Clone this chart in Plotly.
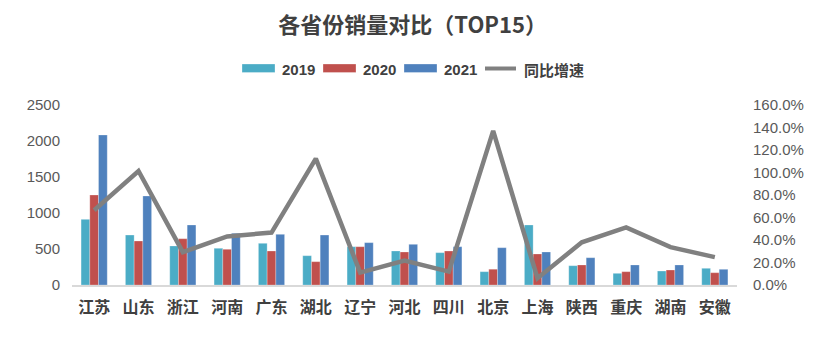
import plotly.graph_objects as go

provinces = ["江苏", "山东", "浙江", "河南", "广东", "湖北", "辽宁", "河北",
             "四川", "北京", "上海", "陕西", "重庆", "湖南", "安徽"]
sales_2019 = [912, 694, 542, 510, 579, 407, 532, 472, 449, 185, 833, 268, 162, 194, 232]
sales_2020 = [1250, 611, 643, 496, 472, 324, 532, 458, 472, 219, 431, 278, 185, 208, 171]
sales_2021 = [2083, 1236, 833, 718, 704, 694, 588, 565, 532, 518, 458, 379, 278, 278, 218]
growth = [0.665, 1.013, 0.292, 0.432, 0.466, 1.123, 0.11, 0.217, 0.119, 1.37, 0.06, 0.38, 0.512, 0.337, 0.248]

series_names = ["2019", "2020", "2021"]
series_colors = ["#4BACC6", "#C0504D", "#4F81BD"]
line_name = "同比增速"
line_color = "#808080"

FONT = "Liberation Sans, Arial, Noto Sans CJK SC"
CJK = "Noto Sans CJK SC, Liberation Sans"

W, H = 832, 343
M = dict(l=72, r=95, t=105, b=58)
PW = W - M["l"] - M["r"]
PH = H - M["t"] - M["b"]


def px_x(x):
    return (x - M["l"]) / PW


def px_y(y):
    return (H - M["b"] - y) / PH


fig = go.Figure()
for name, vals, col in zip(series_names, [sales_2019, sales_2020, sales_2021], series_colors):
    fig.add_trace(go.Bar(x=provinces, y=vals, name=name, marker_color=col,
                         marker_line=dict(color="rgba(255,255,255,0.5)", width=0.5),
                         showlegend=False))
fig.add_trace(go.Scatter(x=provinces, y=growth, name=line_name, mode="lines",
                         line=dict(color=line_color, width=4.5), yaxis="y2",
                         showlegend=False))

# legend row: wide swatches followed by bold labels
shapes = []
annotations = []
swatch_x = [242, 323, 404]
for sx, name, col in zip(swatch_x, series_names, series_colors):
    shapes.append(dict(type="rect", xref="paper", yref="paper",
                       x0=px_x(sx), x1=px_x(sx + 33), y0=px_y(72.5), y1=px_y(64),
                       fillcolor=col, line=dict(color="rgba(255,255,255,0.6)", width=0.5)))
    annotations.append(dict(text=f"<b>{name}</b>", xref="paper", yref="paper",
                            x=px_x(sx + 38), y=px_y(69), xanchor="left", yanchor="middle",
                            showarrow=False, font=dict(family=FONT, size=15, color="#404040")))
shapes.append(dict(type="line", xref="paper", yref="paper",
                   x0=px_x(485), x1=px_x(516), y0=px_y(68.5), y1=px_y(68.5),
                   line=dict(color=line_color, width=4)))
annotations.append(dict(text=f"<b>{line_name}</b>", xref="paper", yref="paper",
                        x=px_x(522), y=px_y(69), xanchor="left", yanchor="middle",
                        showarrow=False, font=dict(family=CJK, size=15, color="#404040")))

fig.update_layout(
    width=W, height=H, margin=M,
    paper_bgcolor="white", plot_bgcolor="white",
    barmode="group", bargap=0.41, bargroupgap=0,
    showlegend=False,
    title=dict(text="<b>各省份销量对比（TOP15）</b>", x=0.496, xanchor="center",
               y=0.925, yanchor="middle",
               font=dict(family=CJK, size=22, color="#404040")),
    shapes=shapes, annotations=annotations,
    xaxis=dict(showgrid=False, showline=True, linecolor="#D9D9D9", linewidth=1.5,
               ticks="", ticklabelstandoff=7,
               tickvals=provinces, ticktext=[f"<b>{p}</b>" for p in provinces],
               tickfont=dict(family=CJK, size=16, color="#404040")),
    yaxis=dict(range=[0, 2500], dtick=500, showgrid=False, zeroline=False,
               showline=False, ticks="", ticklabelstandoff=11,
               tickfont=dict(family=FONT, size=15, color="#595959")),
    yaxis2=dict(range=[0, 1.6], dtick=0.2, tickformat=".1%", overlaying="y",
                side="right", showgrid=False, zeroline=False, showline=False,
                ticks="", ticklabelstandoff=15,
                tickfont=dict(family=FONT, size=15, color="#595959")),
)

fig.write_html("out.html")
